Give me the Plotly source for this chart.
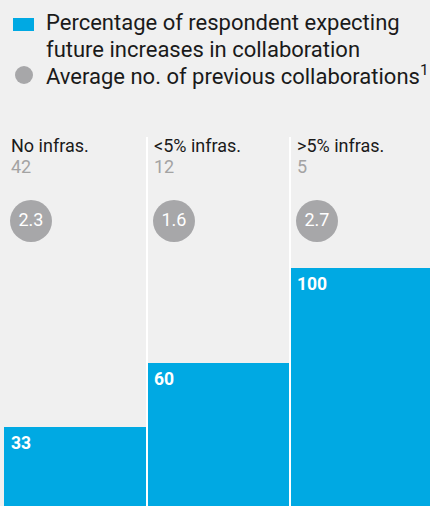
import plotly.graph_objects as go

# ---- data ----
categories = ["No infras.", "<5% infras.", ">5% infras."]
respondents = [42, 12, 5]
pct_expecting_increase = [33, 60, 100]
avg_prev_collab = [2.3, 1.6, 2.7]

legend_bar_lines = ["Percentage of respondent expecting", "future increases in collaboration"]
legend_dot_text = "Average no. of previous collaborations<sup>1</sup>"

# ---- styling / geometry ----
W, H = 430, 506
BLUE = "#00a9e3"
GREY = "#a7a7a9"
COUNT_GREY = "#a3a3a3"
BG = "#f0f0f0"
TXT = "#1a1a1a"
FONT = "Roboto"
L, T = 3, 137
plot_h = H - T
plot_w = W - L
y_max = 100 * plot_h / 238
x_lo, x_hi = -0.507, 2.479
col_px = plot_w / (x_hi - x_lo)


def py(p):
    return (H - p) / plot_h


def px(p):
    return (p - L) / plot_w


idx = list(range(len(categories)))

fig = go.Figure()
fig.add_bar(
    x=idx, y=pct_expecting_increase, width=1,
    marker=dict(color=BLUE, line=dict(width=0)),
    hoverinfo="skip", showlegend=False,
)
fig.add_scatter(
    x=[i - 0.5 + 27 / col_px for i in idx], y=[py(221)] * len(idx), yaxis="y2",
    mode="markers+text",
    marker=dict(size=42, color=GREY, line=dict(width=0)),
    text=[f"{v:.1f}" for v in avg_prev_collab],
    textposition="middle center",
    textfont=dict(color="white", size=18, family=FONT),
    hoverinfo="skip", showlegend=False,
)

shapes = []
for b in [0.5, 1.5]:
    shapes.append(dict(type="line", xref="x", yref="paper", x0=b, x1=b, y0=0, y1=1,
                       line=dict(color="white", width=2), layer="above"))
# legend symbols
shapes.append(dict(type="rect", xref="paper", yref="paper",
                   x0=px(13), x1=px(34), y0=py(31), y1=py(18),
                   fillcolor=BLUE, line=dict(width=0)))
shapes.append(dict(type="circle", xref="paper", yref="paper",
                   x0=px(15), x1=px(33), y0=py(84), y1=py(66),
                   fillcolor=GREY, line=dict(width=0)))

ann = []
# legend text
for line, ymid in zip(legend_bar_lines, [22.5, 49]):
    ann.append(dict(text=line, xref="paper", yref="paper", x=px(44), y=py(ymid),
                    xanchor="left", yanchor="middle", showarrow=False,
                    font=dict(size=22, color=TXT, family=FONT)))
ann.append(dict(text=legend_dot_text, xref="paper", yref="paper", x=px(44), y=py(74.5),
                xanchor="left", yanchor="middle", showarrow=False,
                font=dict(size=22, color=TXT, family=FONT)))

for i, (cat, n, v) in enumerate(zip(categories, respondents, pct_expecting_increase)):
    ann.append(dict(text=cat, xref="x", yref="paper", x=i - 0.5, y=py(145.5),
                    xanchor="left", yanchor="middle", xshift=5, showarrow=False,
                    font=dict(size=18, color=TXT, family=FONT)))
    ann.append(dict(text=str(n), xref="x", yref="paper", x=i - 0.5, y=py(166),
                    xanchor="left", yanchor="middle", xshift=5, showarrow=False,
                    font=dict(size=18, color=COUNT_GREY, family=FONT)))
    ann.append(dict(text=f"<b>{v}</b>", xref="x", yref="y", x=i - 0.5, y=v,
                    xanchor="left", yanchor="top", xshift=5, yshift=-4, showarrow=False,
                    font=dict(size=17.5, color="white", family=FONT)))

fig.update_layout(
    width=W, height=H,
    margin=dict(l=L, r=0, t=T, b=0, pad=0),
    paper_bgcolor=BG, plot_bgcolor=BG,
    bargap=0,
    xaxis=dict(range=[x_lo, x_hi], visible=False, fixedrange=True),
    yaxis=dict(range=[0, y_max], visible=False, fixedrange=True),
    yaxis2=dict(range=[0, 1], overlaying="y", visible=False, fixedrange=True),
    shapes=shapes, annotations=ann,
    showlegend=False,
)

fig.write_html("out.html", config={"displayModeBar": False},
               post_script="document.body.style.margin='0px';document.body.style.overflow='hidden';")
